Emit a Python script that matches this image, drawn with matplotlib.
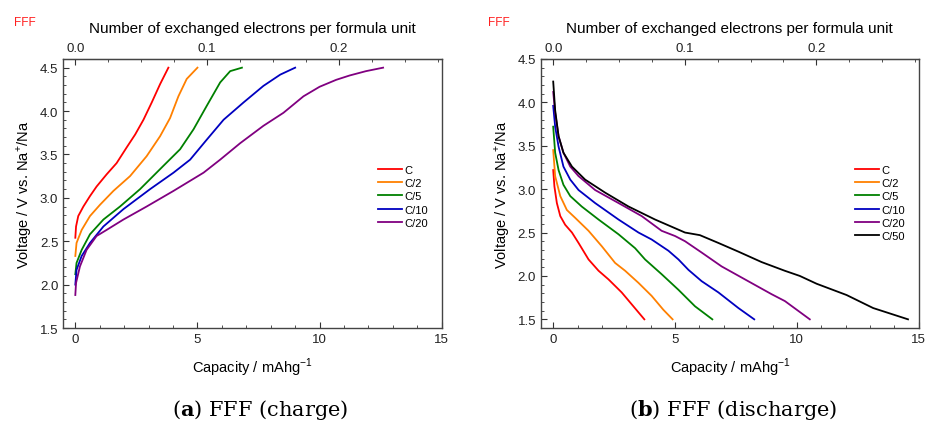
import matplotlib.pyplot as plt
from matplotlib.ticker import MultipleLocator

plt.rcParams['font.family'] = ['Liberation Sans', 'DejaVu Sans']
plt.rcParams['mathtext.fontset'] = 'custom'
plt.rcParams['mathtext.rm'] = 'Liberation Sans'
plt.rcParams['mathtext.bf'] = 'DejaVu Serif:bold'

# capacity (mAh/g) per electron exchanged
cap_per_e = 54.0

rates_charge = ["C", "C/2", "C/5", "C/10", "C/20"]
rates_dis = ["C", "C/2", "C/5", "C/10", "C/20", "C/50"]
colors = ["#ff0000", "#ff8000", "#008000", "#0000c0", "#800080", "#000000"]

# charge curves: capacity, voltage
chg_cap = [
    [0.0, 0.03, 0.12, 0.33, 0.6, 0.87, 1.28, 1.69, 2.1, 2.45, 2.79, 3.13, 3.47, 3.81],
    [0.0, 0.05, 0.26, 0.6, 1.01, 1.56, 2.24, 2.92, 3.47, 3.88, 4.22, 4.56, 5.0],
    [0.0, 0.05, 0.26, 0.6, 1.15, 1.83, 2.65, 3.61, 4.29, 4.84, 5.38, 5.93, 6.34, 6.82],
    [0.0, 0.05, 0.26, 0.6, 1.15, 1.97, 3.06, 4.02, 4.7, 5.38, 6.07, 6.89, 7.7, 8.39, 9.0],
    [0.0, 0.03, 0.19, 0.46, 0.87, 1.28, 1.97, 2.92, 4.02, 5.25, 5.93, 6.75, 7.7, 8.52,
     9.34, 10.0, 10.68, 11.23, 11.9, 12.6],
]
chg_v = [
    [2.54, 2.67, 2.79, 2.9, 3.02, 3.13, 3.27, 3.4, 3.58, 3.73, 3.9, 4.1, 4.31, 4.5],
    [2.33, 2.48, 2.63, 2.79, 2.92, 3.08, 3.25, 3.48, 3.71, 3.92, 4.17, 4.37, 4.5],
    [2.12, 2.25, 2.4, 2.58, 2.75, 2.9, 3.1, 3.37, 3.56, 3.79, 4.06, 4.33, 4.46, 4.5],
    [2.0, 2.17, 2.33, 2.48, 2.67, 2.87, 3.1, 3.29, 3.44, 3.67, 3.9, 4.1, 4.29, 4.42, 4.5],
    [1.88, 2.02, 2.21, 2.4, 2.56, 2.63, 2.75, 2.9, 3.08, 3.29, 3.44, 3.63, 3.83, 3.98,
     4.17, 4.28, 4.36, 4.41, 4.46, 4.5],
]

# discharge curves: capacity, voltage
dis_cap = [
    [0.0, 0.05, 0.15, 0.29, 0.49, 0.77, 1.04, 1.45, 1.86, 2.27, 2.81, 3.29, 3.74],
    [0.0, 0.08, 0.29, 0.56, 0.9, 1.45, 2.0, 2.54, 2.95, 3.5, 4.04, 4.52, 4.9],
    [0.0, 0.08, 0.22, 0.42, 0.7, 1.17, 1.86, 2.68, 3.36, 3.77, 4.45, 5.14, 5.82, 6.53],
    [0.0, 0.08, 0.22, 0.42, 0.7, 1.04, 1.72, 2.68, 3.5, 4.04, 4.73, 5.14, 5.55, 6.09,
     6.78, 7.6, 8.25],
    [0.0, 0.08, 0.22, 0.42, 0.7, 1.04, 1.72, 2.68, 3.63, 4.45, 5.0, 5.41, 6.09, 6.91,
     7.87, 8.96, 9.51, 10.53],
    [0.0, 0.08, 0.22, 0.42, 0.77, 1.31, 2.13, 3.09, 4.18, 5.41, 6.02, 6.78, 7.6, 8.55,
     9.5, 10.12, 10.81, 12.04, 13.13, 14.56],
]
dis_v = [
    [3.22, 3.03, 2.84, 2.69, 2.59, 2.5, 2.38, 2.19, 2.06, 1.96, 1.81, 1.65, 1.5],
    [3.45, 3.15, 2.92, 2.76, 2.67, 2.52, 2.34, 2.15, 2.06, 1.92, 1.77, 1.61, 1.5],
    [3.72, 3.42, 3.22, 3.05, 2.92, 2.8, 2.65, 2.48, 2.32, 2.19, 2.02, 1.84, 1.65, 1.5],
    [3.96, 3.72, 3.49, 3.26, 3.11, 2.99, 2.84, 2.65, 2.5, 2.42, 2.29, 2.19, 2.07, 1.94,
     1.81, 1.63, 1.5],
    [4.12, 3.88, 3.61, 3.42, 3.26, 3.15, 2.99, 2.84, 2.69, 2.52, 2.46, 2.4, 2.27, 2.11,
     1.96, 1.79, 1.71, 1.5],
    [4.24, 3.91, 3.61, 3.42, 3.26, 3.11, 2.96, 2.8, 2.65, 2.5, 2.47, 2.38, 2.28, 2.16,
     2.06, 2.0, 1.91, 1.78, 1.63, 1.5],
]

fig = plt.figure(figsize=(9.28, 4.27), dpi=100)
ax1 = fig.add_axes([0.068, 0.2295, 0.408, 0.63])
ax2 = fig.add_axes([0.583, 0.2295, 0.407, 0.63])


def style(ax, ylim, caption, xc, leg_y):
    ax.set_xlim(-0.5, 15)
    ax.set_ylim(*ylim)
    ax.xaxis.set_major_locator(MultipleLocator(5))
    ax.xaxis.set_minor_locator(MultipleLocator(1))
    ax.yaxis.set_major_locator(MultipleLocator(0.5))
    ax.yaxis.set_minor_locator(MultipleLocator(0.1))
    ax.tick_params(which='both', direction='in', labelsize=9.5, colors='#333333',
                   labelcolor='#222222')
    ax.tick_params(which='major', length=4)
    ax.tick_params(which='minor', length=2.5)
    for s in ax.spines.values():
        s.set_color('#444444')
        s.set_linewidth(1)
    ax.set_xlabel("Capacity / mAhg$^{-1}$", fontsize=10.5, labelpad=8)
    ax.set_ylabel("Voltage / V vs. Na$^{+}$/Na", fontsize=10.5, labelpad=4)
    top = ax.secondary_xaxis('top', functions=(lambda c: c / cap_per_e,
                                               lambda e: e * cap_per_e))
    top.xaxis.set_major_locator(MultipleLocator(0.1))
    top.xaxis.set_minor_locator(MultipleLocator(0.025))
    top.tick_params(which='both', direction='in', labelsize=9.5, colors='#333333',
                    labelcolor='#222222')
    top.tick_params(which='major', length=4)
    top.tick_params(which='minor', length=2.5)
    top.set_xticks([0.0, 0.1, 0.2])
    top.set_xticklabels(["0.0", "0.1", "0.2"])
    top.set_xlabel("Number of exchanged electrons per formula unit", fontsize=11,
                   labelpad=7)
    ax.legend(loc='center right', bbox_to_anchor=(0.99, leg_y), frameon=False,
              fontsize=8, handlelength=2.2, handletextpad=0.2, labelspacing=0.3)
    fig.text(xc, 0.04, caption, ha='center', va='center', fontsize=15,
             family='DejaVu Serif')


for i, r in enumerate(rates_charge):
    ax1.plot(chg_cap[i], chg_v[i], color=colors[i], lw=1.3, label=r)
for i, r in enumerate(rates_dis):
    ax2.plot(dis_cap[i], dis_v[i], color=colors[i], lw=1.3, label=r)

style(ax1, (1.5, 4.6), r"($\mathbf{a}$) FFF (charge)", 0.28, 0.49)
style(ax2, (1.4, 4.5), r"($\mathbf{b}$) FFF (discharge)", 0.79, 0.465)

fig.text(0.015, 0.94, "FFF", color='#ff2020', fontsize=8.5)
fig.text(0.526, 0.94, "FFF", color='#ff2020', fontsize=8.5)

fig.savefig("out.png", dpi=100)
